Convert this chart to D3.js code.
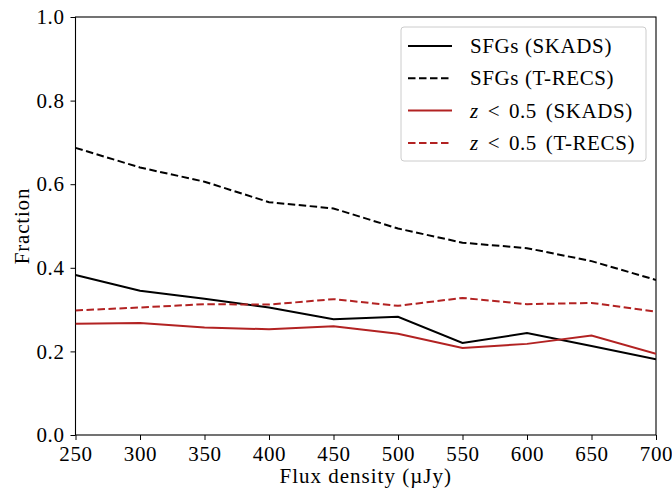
<!DOCTYPE html>
<html><head><meta charset="utf-8">
<script src="https://cdn.jsdelivr.net/npm/d3@7"></script>
<style>
body{margin:0;background:#fff;}
svg text{font-family:'Liberation Serif','DejaVu Serif',serif;}
</style></head>
<body><svg id="c" width="672" height="491"></svg>
<script>
const fluxBins = [250,300,350,400,450,500,550,600,650,700];
const sfgSkads  = [0.383,0.345,0.326,0.305,0.277,0.283,0.220,0.244,0.213,0.181];
const sfgTrecs  = [0.687,0.640,0.606,0.557,0.542,0.494,0.460,0.447,0.416,0.371];
const lowzSkads = [0.266,0.268,0.257,0.253,0.260,0.242,0.208,0.218,0.238,0.194];
const lowzTrecs = [0.298,0.305,0.313,0.312,0.325,0.309,0.328,0.313,0.316,0.295];
const xTicks = [250,300,350,400,450,500,550,600,650,700];
const yTicks = [0.0,0.2,0.4,0.6,0.8,1.0];
const seriesNames = ["SFGs (SKADS)","SFGs (T-RECS)","z < 0.5 (SKADS)","z < 0.5 (T-RECS)"];

const series = [
  {name:seriesNames[0], vals:sfgSkads, color:"#000000", dash:null, italicZ:false},
  {name:seriesNames[1], vals:sfgTrecs, color:"#000000", dash:"7.5,3.5", italicZ:false},
  {name:seriesNames[2], vals:lowzSkads, color:"#b22222", dash:null, italicZ:true},
  {name:seriesNames[3], vals:lowzTrecs, color:"#b22222", dash:"7.5,3.5", italicZ:true}
];

const svg = d3.select("#c");
const L=75.5, R=656, T=17, B=435;
const x = d3.scaleLinear().domain([250,700]).range([L,R]);
const y = d3.scaleLinear().domain([0,1]).range([B,T]);

const fs = 21, ls = "0.6px";
const FF = "'Liberation Serif', 'DejaVu Serif', serif";
const xa = svg.append("g").attr("transform",`translate(0,${B})`)
  .call(d3.axisBottom(x).tickValues(xTicks).tickFormat(d3.format("d")).tickSize(5).tickPadding(6));
const ya = svg.append("g").attr("transform",`translate(${L},0)`)
  .call(d3.axisLeft(y).tickValues(yTicks).tickFormat(d3.format(".1f")).tickSize(5).tickPadding(6));
[xa,ya].forEach(a=>{
  a.attr("font-family",FF).attr("font-size",fs);
  a.selectAll("path").remove();
  a.selectAll("line").attr("stroke","#000").attr("stroke-width",1);
  a.selectAll("text").attr("fill","#000").style("font-family",FF).style("font-size",fs+"px")
    .style("letter-spacing",ls);
});
svg.append("rect").attr("x",L).attr("y",T).attr("width",R-L).attr("height",B-T)
  .attr("fill","none").attr("stroke","#000").attr("stroke-width",1.1);

const line = d3.line().x((d,i)=>x(fluxBins[i])).y(d=>y(d));
svg.append("clipPath").attr("id","cp").append("rect")
  .attr("x",L).attr("y",T).attr("width",R-L).attr("height",B-T);
series.forEach(s=>{
  svg.append("path").attr("d",line(s.vals)).attr("fill","none")
    .attr("stroke",s.color).attr("stroke-width",2)
    .attr("stroke-dasharray",s.dash).attr("clip-path","url(#cp)");
});

svg.append("text").attr("x",(L+R)/2).attr("y",483).attr("text-anchor","middle")
  .style("font-family",FF).style("font-size",fs+"px").style("letter-spacing","1px")
  .text("Flux density (µJy)");
svg.append("text").attr("transform",`translate(29,${(T+B)/2}) rotate(-90)`)
  .attr("text-anchor","middle").style("font-family",FF).style("font-size",fs+"px")
  .style("letter-spacing","0.8px").text("Fraction");

const lg = svg.append("g");
lg.append("rect").attr("x",401).attr("y",27).attr("width",245).attr("height",134).attr("rx",3)
  .attr("fill","#fff").attr("fill-opacity",0.8).attr("stroke","#ccc").attr("stroke-width",1);
series.forEach((s,i)=>{
  const yy = 46 + i*32.3;
  lg.append("line").attr("x1",408).attr("x2",452).attr("y1",yy).attr("y2",yy)
    .attr("stroke",s.color).attr("stroke-width",2).attr("stroke-dasharray",s.dash);
  const t = lg.append("text").attr("x",470).attr("y",yy+7)
    .style("font-family",FF).style("font-size",fs+"px").style("letter-spacing",ls);
  if(s.italicZ){
    t.style("word-spacing","3px");
    t.append("tspan").attr("font-style","italic").text("z");
    t.append("tspan").text(s.name.slice(1));
  } else t.text(s.name);
});
</script></body></html>
